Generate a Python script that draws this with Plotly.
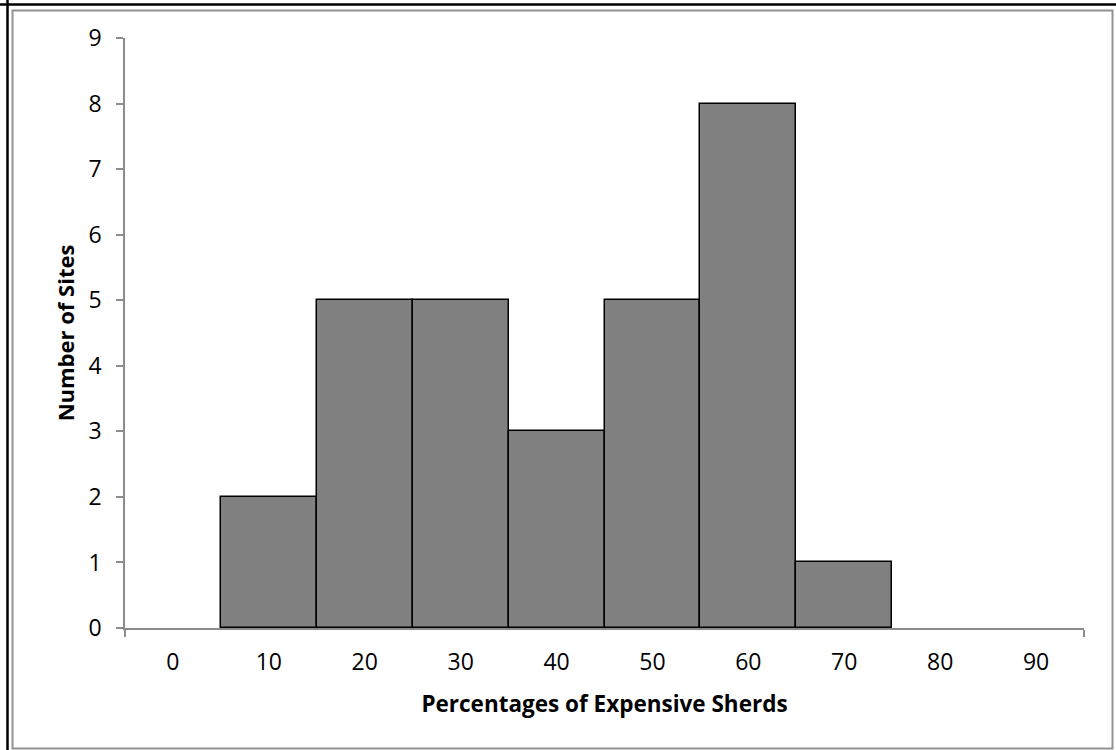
import plotly.graph_objects as go

categories = [0, 10, 20, 30, 40, 50, 60, 70, 80, 90]
counts = [0, 2, 5, 5, 3, 5, 8, 1, 0, 0]
y_ticks = [0, 1, 2, 3, 4, 5, 6, 7, 8, 9]

W, H = 1116, 750
L, R, T, B = 125, 32, 38, 122
pw, ph = W - L - R, H - T - B

bx = [c for c, n in zip(categories, counts) if n > 0]
by = [n for n in counts if n > 0]

fig = go.Figure(go.Bar(
    x=bx, y=by, width=10,
    marker=dict(color="#808080", line=dict(color="black", width=1.5)),
))

def px_x(p):
    return (p - L) / pw

def px_y(q):
    return (H - B - q) / ph

shapes = [
    dict(type="line", xref="paper", yref="paper", x0=px_x(0), x1=px_x(W), y0=px_y(4.5), y1=px_y(4.5),
         line=dict(color="black", width=2.5)),
    dict(type="line", xref="paper", yref="paper", x0=px_x(7.5), x1=px_x(7.5), y0=px_y(0), y1=px_y(H),
         line=dict(color="black", width=2.5)),
    dict(type="rect", xref="paper", yref="paper", x0=px_x(12.5), x1=px_x(1112.5), y0=px_y(10.5), y1=px_y(748.5),
         line=dict(color="#929292", width=2)),
]

font = "Open Sans, Noto Sans, sans-serif"
fig.update_layout(
    width=W, height=H,
    margin=dict(l=L, r=R, t=T, b=B),
    paper_bgcolor="white", plot_bgcolor="white",
    showlegend=False, bargap=0,
    shapes=shapes,
    font=dict(family=font, size=22, color="black"),
    xaxis=dict(
        range=[-5, 95], tickmode="array", tickvals=categories,
        ticktext=[str(c) for c in categories],
        ticks="", showgrid=False, zeroline=False,
        showline=True, linecolor="#8c8c8c", linewidth=1.5,
        tickfont=dict(size=23),
        ticklabelstandoff=13,
        minor=dict(tickmode="array", tickvals=[-5, 95], ticks="outside", ticklen=7,
                   tickcolor="#8c8c8c", tickwidth=1.5, showgrid=False),
        title=dict(text="<b>Percentages of Expensive Sherds</b>", font=dict(size=22.5), standoff=20),
    ),
    yaxis=dict(
        range=[0, 9], tickmode="array", tickvals=y_ticks,
        ticks="outside", ticklen=7, tickcolor="#8c8c8c", tickwidth=1.5,
        showgrid=False, zeroline=False,
        showline=True, linecolor="#8c8c8c", linewidth=1.5,
        tickfont=dict(size=23),
        ticklabelstandoff=10,
        title=dict(text="<b>Number of Sites</b>", font=dict(size=22), standoff=8),
    ),
)

fig.write_html("out.html", config={"displayModeBar": False},
               post_script="document.body.style.margin='0';document.body.style.overflow='hidden';")
